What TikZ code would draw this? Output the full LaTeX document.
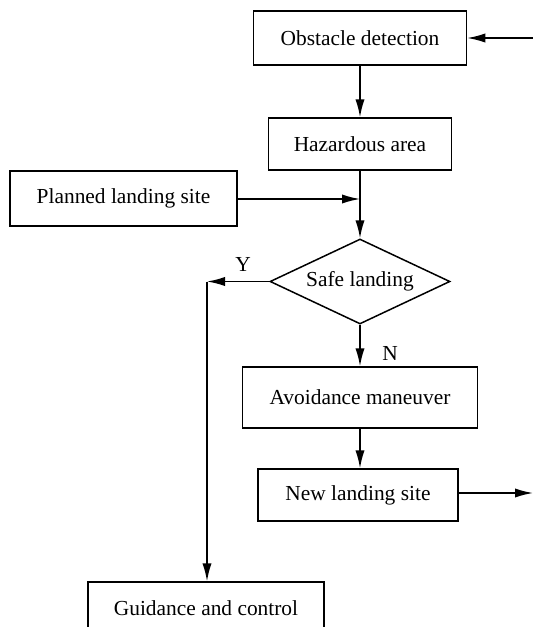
\documentclass[tikz,border=0pt]{standalone}
\usepackage{fontspec}
\setmainfont{Liberation Serif}
\usetikzlibrary{shapes.geometric,arrows.meta}
\begin{document}
\begin{tikzpicture}[x=0.5pt,y=-0.5pt,
  every node/.style={font=\fontsize{10.7}{12}\selectfont},
  block/.style={draw, line width=0.75pt, rectangle, inner sep=0pt},
  decision/.style={draw, line width=0.75pt, diamond, inner sep=0pt, aspect=2.1},
  flow/.style={line width=0.75pt, -{Latex[length=9pt,width=4.6pt]}}]
\clip (0,0) rectangle (533,627);

% process blocks
\node[block, minimum width=106.5pt, minimum height=27pt] (obst) at (360,38) {Obstacle detection};
\node[block, minimum width=91.5pt, minimum height=26pt] (haz) at (360,144) {Hazardous area};
\node[block, minimum width=113.5pt, minimum height=27.5pt] (plan) at (123.5,198.5) {Planned landing site};
\node[decision, minimum width=90pt, minimum height=42.5pt] (safe) at (360,281.5) {Safe landing};
\node[block, minimum width=117.5pt, minimum height=30.5pt] (avoid) at (360,397.5) {Avoidance maneuver};
\node[block, minimum width=100pt, minimum height=26pt] (newsite) at (358,495) {New landing site};
\node[block, minimum width=118pt, minimum height=26pt] (guide) at (206,608) {Guidance and control};

% branch labels
\node (ylab) at (243,264) {Y};
\node (nlab) at (390,353) {N};

% free ends and junctions
\coordinate (inR) at (533,38);
\coordinate (outR) at (533,493);
\coordinate (join) at (360,199);
\coordinate (yturn) at (207,281.5);

% connectors
\draw[flow] (inR) -- (obst.east);
\draw[flow] (obst.south) -- (haz.north);
\draw[flow] (haz.south) -- (safe.north);
\draw[flow] (plan.east |- join) -- (join);
\draw[flow] (safe.west) -- (yturn);
\draw[flow] (yturn) -- (yturn |- guide.north);
\draw[flow] (safe.south) -- (avoid.north);
\draw[flow] (avoid.south) -- (avoid.south |- newsite.north);
\draw[flow] (newsite.east |- outR) -- (outR);
\end{tikzpicture}
\end{document}
